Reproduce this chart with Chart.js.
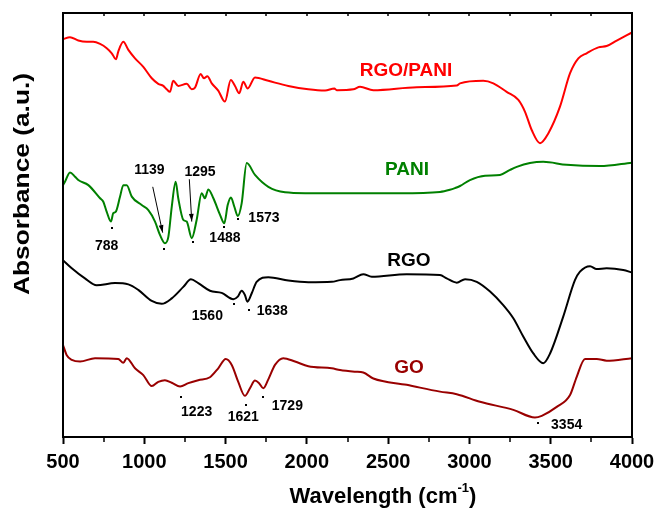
<!DOCTYPE html>
<html>
<head>
<meta charset="utf-8">
<script src="https://cdn.jsdelivr.net/npm/chart.js@4.4.1/dist/chart.umd.min.js"></script>
<style>
html,body{margin:0;padding:0;background:#fff;}
#wrap{width:656px;height:508px;position:relative;}
</style>
</head>
<body>
<div id="wrap"><canvas id="c" width="656" height="508"></canvas></div>
<script>
// Wavenumber (cm-1) and absorbance (a.u., offset-stacked)
const rgoPaniX = [500,543,594,646,686,728,769,800,826,840,871,902,943,994,1046,1086,1117,1138,1158,1178,1209,1261,1292,1312,1347,1367,1388,1415,1455,1496,1532,1558,1584,1609,1636,1681,1763,1886,2009,2112,2169,2184,2286,2327,2409,2676,2922,2942,3085,3147,3229,3301,3342,3383,3434,3485,3557,3619,3670,3721,3793,3844,3906,4000];
const rgoPaniY = [93.8,94.3,93.5,93.2,93.2,92.7,91.7,90.5,89.1,90.9,93.2,91.3,89.3,87.3,84.6,83.3,82.8,82.0,81.4,84.0,82.8,83.3,82.0,82.4,85.6,84.6,85.1,83.4,81.7,79.1,84.2,82.8,81.1,83.8,82.2,84.8,84.0,82.8,82.0,81.7,82.2,81.8,82.0,82.6,81.8,82.5,82.9,83.4,84.0,83.4,81.4,79.5,76.7,72.4,69.3,71.6,77.9,85.8,89.3,90.5,91.9,92.2,93.5,95.4];

const paniX = [500,512,543,574,594,656,728,748,769,795,809,824,851,871,892,923,984,1025,1066,1097,1127,1148,1169,1193,1209,1240,1261,1292,1322,1353,1373,1394,1425,1466,1492,1513,1533,1554,1575,1599,1630,1681,1763,1866,1989,2296,2573,2819,2880,2911,2942,3003,3096,3188,3250,3291,3372,3454,3598,3803,4000];
const paniY = [59.4,60.2,62.4,61.4,60.6,59.4,56.3,55.5,53.1,50.8,52.8,53.1,56.7,59.4,59.4,56.7,54.7,53.5,50.8,47.6,45.7,47.2,54.3,60.2,56.3,51.2,50.8,46.9,51.2,57.5,56.3,58.4,56.3,52.4,50.4,54.7,56.5,54.3,52.1,55.1,64.6,61.8,59.0,57.7,57.5,57.5,57.5,57.8,58.3,58.7,59.2,60.6,61.6,61.8,63.0,63.7,64.6,64.9,64.2,63.9,64.7];

const rgoX = [500,554,635,707,820,902,963,1046,1107,1169,1240,1287,1332,1404,1476,1548,1575,1599,1619,1634,1661,1691,1763,1886,2009,2153,2204,2286,2347,2399,2614,2819,2860,2922,2973,3045,3127,3208,3270,3331,3393,3454,3496,3577,3649,3680,3742,3782,3844,3946,4000];
const rgoY = [41.7,39.8,37.4,35.8,36.3,36.0,34.7,32.1,31.4,32.7,35.4,37.2,36.3,34.5,34.0,32.5,33.1,34.5,33.5,31.9,33.9,36.6,37.7,36.9,36.5,36.6,37.0,37.4,38.4,37.8,38.4,38.2,37.4,36.4,37.2,36.6,34.3,31.1,28.0,23.7,19.7,17.4,19.7,28.4,37.0,39.0,40.3,39.6,39.8,39.4,38.8];

const goX = [500,523,554,605,697,840,871,892,943,994,1046,1086,1127,1169,1220,1271,1332,1404,1455,1501,1538,1578,1619,1650,1681,1706,1732,1763,1804,1855,1927,2009,2153,2204,2296,2347,2409,2614,2819,2922,3065,3270,3403,3445,3537,3619,3660,3711,3783,3844,4000];
const goY = [21.7,19.3,18.2,17.8,18.6,18.4,17.5,18.6,16.2,14.6,12.0,13.0,13.4,12.8,11.9,12.7,13.4,14.1,16.2,18.4,17.0,13.0,9.7,11.5,13.3,12.7,11.5,13.6,17.0,18.6,17.8,16.7,16.2,15.8,15.4,15.2,13.8,12.3,10.7,10.1,8.3,6.4,4.6,5.0,7.1,9.9,14.2,18.4,18.4,18.0,18.6];

const seriesNames = ['RGO/PANI','PANI','RGO','GO'];
const seriesColors = ['#ff0000','#008000','#000000','#990000'];

// series name labels (x in cm-1, y in a.u.)
const nameLabelX = [2610,2616,2628,2628];
const nameLabelY = [86.4,63.0,41.6,16.3];

// peak labels
const peakText = ['788','1139','1295','1488','1573','1560','1638','1223','1621','1729','3354'];
const peakTextX = [769,1031,1343,1496,1736,1388,1787,1322,1609,1880,3598];
const peakTextY = [45.0,63.0,62.4,46.8,51.5,28.4,29.8,5.8,4.8,7.3,2.7];
// peak marker dots
const dotX = [800,1123,1298,1492,1575,1552,1644,1226,1626,1728,3420];
const dotY = [49.2,44.3,45.9,49.5,51.3,31.3,29.9,9.5,7.5,9.4,3.4];
// arrows
const arrowFromX = [1052,1277];
const arrowFromY = [59.0,60.8];
const arrowToX = [1113,1292];
const arrowToY = [48.2,50.8];

const xTickMajor = [500,1000,1500,2000,2500,3000,3500,4000];
const xTickMinor = [750,1250,1750,2250,2750,3250,3750];

const FONT = '"Liberation Sans", Arial, Helvetica, sans-serif';

function pts(xs, ys){ return xs.map((x,i)=>({x:x,y:ys[i]})); }

const datasets = [
  {label:seriesNames[0], data:pts(rgoPaniX,rgoPaniY)},
  {label:seriesNames[1], data:pts(paniX,paniY)},
  {label:seriesNames[2], data:pts(rgoX,rgoY)},
  {label:seriesNames[3], data:pts(goX,goY)}
].map((d,i)=>Object.assign(d,{
  borderColor:seriesColors[i], borderWidth:2, pointRadius:0, fill:false,
  cubicInterpolationMode:'monotone'
}));

const decor = {
  id:'decor',
  afterDatasetsDraw(chart){
    const ctx = chart.ctx, a = chart.chartArea;
    const xs = chart.scales.x, ys = chart.scales.y;
    ctx.save();
    // frame
    ctx.strokeStyle = '#000'; ctx.lineWidth = 2;
    ctx.strokeRect(a.left, a.top, a.right - a.left, a.bottom - a.top);
    // minor ticks bottom (outward), top ticks (inward)
    ctx.lineWidth = 1.5;
    ctx.beginPath();
    xTickMinor.forEach(v=>{
      const px = Math.round(xs.getPixelForValue(v));
      ctx.moveTo(px, a.bottom); ctx.lineTo(px, a.bottom + 5);
    });
    xTickMinor.concat(xTickMajor).forEach(v=>{
      const px = Math.round(xs.getPixelForValue(v));
      ctx.moveTo(px, a.top); ctx.lineTo(px, a.top + 3);
    });
    ctx.stroke();
    // series names
    ctx.font = 'bold 19px ' + FONT;
    ctx.textAlign = 'center'; ctx.textBaseline = 'middle';
    seriesNames.forEach((n,i)=>{
      ctx.fillStyle = seriesColors[i];
      ctx.fillText(n, xs.getPixelForValue(nameLabelX[i]), ys.getPixelForValue(nameLabelY[i]));
    });
    // peak labels
    ctx.fillStyle = '#000';
    ctx.font = 'bold 14px ' + FONT;
    peakText.forEach((t,i)=>{
      ctx.fillText(t, xs.getPixelForValue(peakTextX[i]), ys.getPixelForValue(peakTextY[i]));
    });
    // dots
    dotX.forEach((x,i)=>{
      const px = xs.getPixelForValue(x), py = ys.getPixelForValue(dotY[i]);
      ctx.fillRect(Math.round(px)-1, Math.round(py)-1, 2, 2);
    });
    // arrows
    ctx.lineWidth = 1; ctx.strokeStyle = '#000';
    arrowFromX.forEach((fx,i)=>{
      const x1 = xs.getPixelForValue(fx), y1 = ys.getPixelForValue(arrowFromY[i]);
      const x2 = xs.getPixelForValue(arrowToX[i]), y2 = ys.getPixelForValue(arrowToY[i]);
      ctx.beginPath(); ctx.moveTo(x1,y1); ctx.lineTo(x2,y2); ctx.stroke();
      const ang = Math.atan2(y2-y1, x2-x1), L = 8, W = 0.3;
      ctx.beginPath();
      ctx.moveTo(x2,y2);
      ctx.lineTo(x2 - L*Math.cos(ang-W), y2 - L*Math.sin(ang-W));
      ctx.lineTo(x2 - L*Math.cos(ang+W), y2 - L*Math.sin(ang+W));
      ctx.closePath(); ctx.fill();
    });
    // y axis title (slightly wide lettering like the source)
    ctx.fillStyle = '#000';
    ctx.save();
    ctx.translate(23, 184);
    ctx.rotate(-Math.PI/2);
    ctx.font = 'bold 22px ' + FONT;
    ctx.textAlign = 'center'; ctx.textBaseline = 'middle';
    const yw = ctx.measureText('Absorbance (a.u.)').width;
    ctx.scale(222 / yw, 1);
    ctx.fillText('Absorbance (a.u.)', 0, 0);
    ctx.restore();
    // x title with superscript
    const main = 'Wavelength (cm', sup = '-1', close = ')';
    ctx.font = 'bold 22px ' + FONT;
    const w1 = ctx.measureText(main).width, w3 = ctx.measureText(close).width;
    ctx.font = 'bold 13px ' + FONT;
    const w2 = ctx.measureText(sup).width;
    const total = w1 + w2 + w3;
    const cx = 383, base = 503;
    let x0 = cx - total/2;
    ctx.textAlign = 'left'; ctx.textBaseline = 'alphabetic';
    ctx.font = 'bold 22px ' + FONT;
    ctx.fillText(main, x0, base);
    ctx.font = 'bold 13px ' + FONT;
    ctx.fillText(sup, x0 + w1, base - 11);
    ctx.font = 'bold 22px ' + FONT;
    ctx.fillText(close, x0 + w1 + w2, base);
    ctx.restore();
  }
};

new Chart(document.getElementById('c'), {
  type:'line',
  data:{datasets:datasets},
  options:{
    responsive:false, animation:false,
    layout:{padding:{left:63, right:24, top:13, bottom:0}},
    plugins:{legend:{display:false}, tooltip:{enabled:false}},
    scales:{
      x:{
        type:'linear', min:500, max:4000,
        afterBuildTicks(scale){ scale.ticks = xTickMajor.map(v=>({value:v})); },
        afterFit(scale){ scale.height = 71; scale.paddingLeft = 0; scale.paddingRight = 0; },
        grid:{display:true, drawOnChartArea:false, drawTicks:true, tickLength:7, tickWidth:2, tickColor:'#000'},
        border:{display:true, color:'#000', width:2},
        ticks:{color:'#000', font:{family:FONT, size:20, weight:'bold'}, padding:6, maxRotation:0, autoSkip:false,
               callback:(v)=>String(v)}
      },
      y:{type:'linear', min:0, max:100, display:false}
    }
  },
  plugins:[decor]
});
</script>
</body>
</html>
